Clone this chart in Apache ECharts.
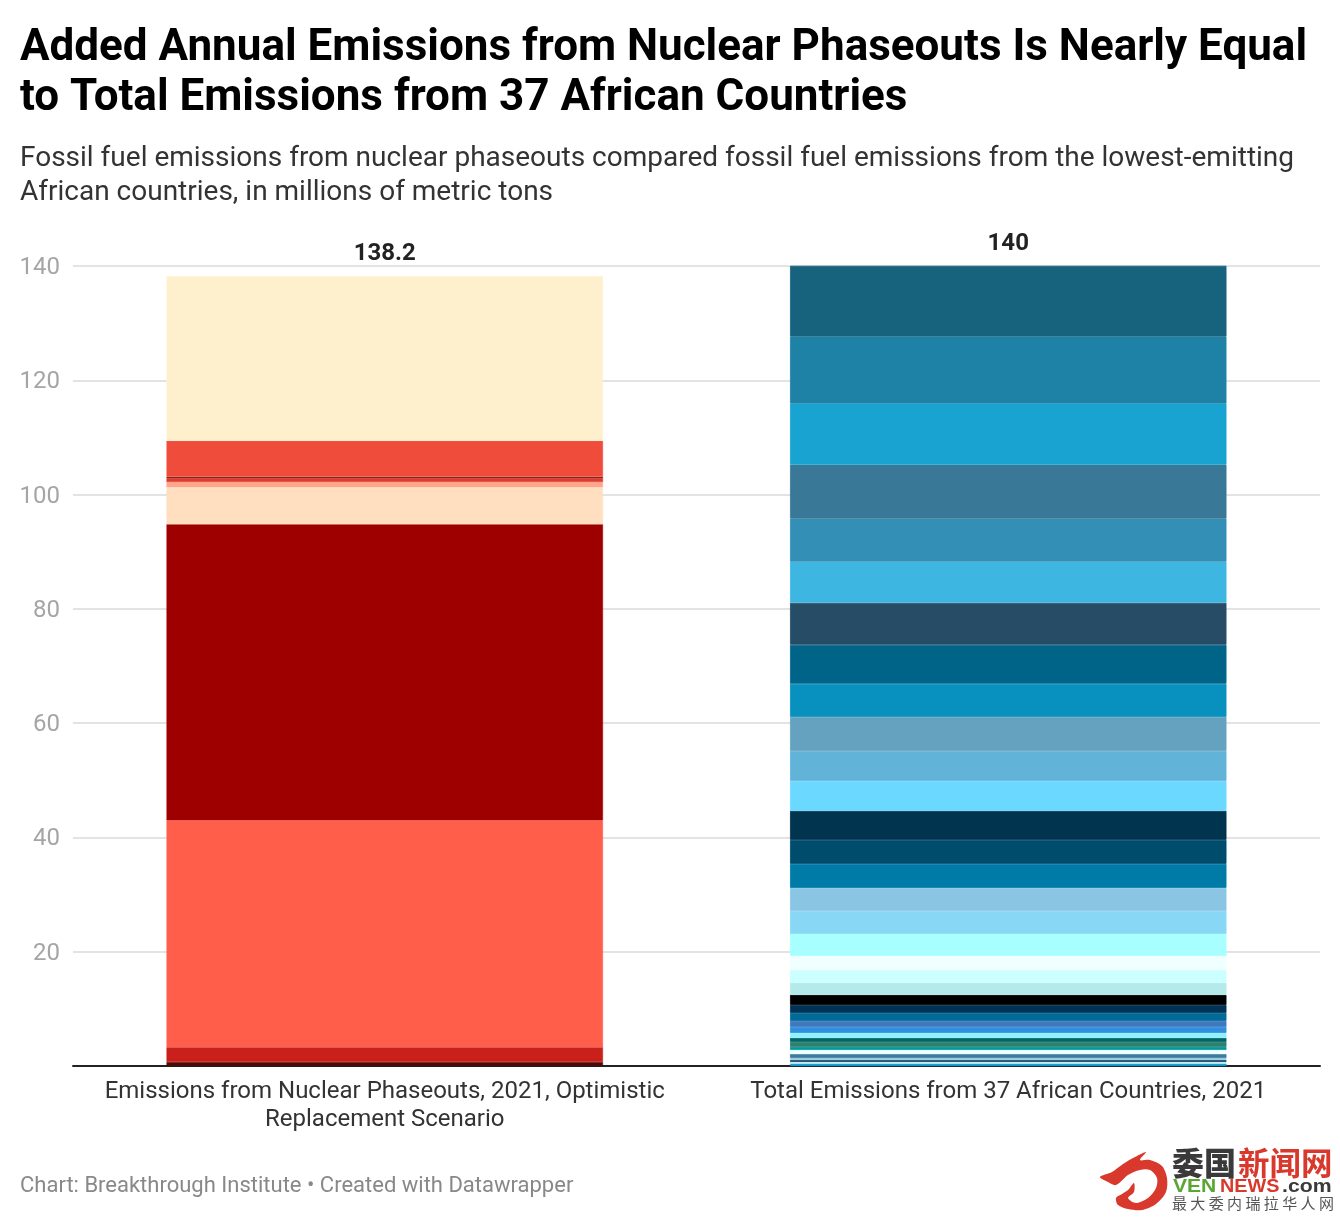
<!DOCTYPE html>
<html>
<head>
<meta charset="utf-8">
<script src="https://cdn.jsdelivr.net/npm/echarts@6/dist/echarts.min.js"></script>
<style>
html, body { margin: 0; padding: 0; background: #fff; }
#container { width: 1340px; height: 1218px; }
</style>
</head>
<body>
<div id="container"></div>
<script>
var titleText = 'Added Annual Emissions from Nuclear Phaseouts Is Nearly Equal\nto Total Emissions from 37 African Countries';
var subtitleText = 'Fossil fuel emissions from nuclear phaseouts compared fossil fuel emissions from the lowest-emitting\nAfrican countries, in millions of metric tons';
var footerText = 'Chart: Breakthrough Institute \u2022 Created with Datawrapper';

var categories = ['Emissions from Nuclear Phaseouts, 2021, Optimistic\nReplacement Scenario', 'Total Emissions from 37 African Countries, 2021'];
var totals = [138.2, 140];

// bottom to top
var nuclearValues = [0.7, 2.6, 39.7, 51.8, 6.5, 0.9, 0.7, 0.2, 6.3, 28.8];
var nuclearColors = ['#4f0b07', '#c9201c', '#ff5f4a', '#9e0000', '#ffdfbf', '#ffa58a', '#dd3a2c', '#6e0f0a', '#f04c3c', '#fff0cd'];

var africaValues = [0.44, 0.26, 0.35, 0.35, 0.7, 0.7, 0.53, 0.88, 0.7, 0.88, 1.05, 1.05, 1.4, 1.4, 1.75, 2.1, 2.28, 2.45, 3.85, 4.03, 4.03, 4.2, 4.2, 5.08, 5.25, 5.25, 5.95, 5.78, 6.83, 7.35, 7.18, 7.53, 9.45, 10.68, 11.73, 12.4];
var africaColors = ['#15a5d5', '#d8f6ff', '#0d3a56', '#8ccbe6', '#3d7a9e', '#f0ffff', '#009999', '#2e8070', '#006666', '#90f0ff', '#3090dd', '#4078c0', '#006b99', '#003355', '#000000', '#b5eaea', '#ccffff', '#f0ffff', '#a8ffff', '#88d8f5', '#8ac6e3', '#007ba7', '#004c6d', '#00344f', '#6bd9ff', '#62b3d8', '#65a2c0', '#0891bf', '#006488', '#264c66', '#3eb6e2', '#338fb5', '#397897', '#19a3d0', '#1e82a6', '#17637e'];

var series = [];
function addStack(values, colors, idx, border) {
    values.forEach(function (v, i) {
        var d = [null, null];
        d[idx] = v;
        series.push({
            type: 'bar', stack: 'a', barWidth: '70%', silent: true,
            data: d,
            itemStyle: { color: colors[i], borderColor: colors[i], borderWidth: border }
        });
    });
}
addStack(nuclearValues, nuclearColors, 0, 0.5);
addStack(africaValues, africaColors, 1, 0.8);
// totals on top of the stacks
series.push({
    type: 'scatter', symbolSize: 0, silent: true,
    data: totals,
    itemStyle: { opacity: 1 },
    label: {
        show: true, position: 'top', distance: 10,
        color: '#222', fontFamily: 'Roboto', fontSize: 24, fontWeight: 700,
        formatter: function (p) { return String(p.value); }
    }
});

var myChart = echarts.init(document.getElementById('container'), null, { renderer: 'canvas' });
myChart.setOption({
    animation: false,
    backgroundColor: '#fff',
    title: [
        { text: titleText, left: 15, top: 19, textStyle: { fontFamily: 'Roboto', fontSize: 44, fontWeight: 700, color: '#000', lineHeight: 50 } },
        { text: subtitleText, left: 15, top: 136.5, textStyle: { fontFamily: 'Roboto', fontSize: 28, fontWeight: 400, color: '#333', lineHeight: 34 } },
        { text: footerText, left: 15, top: 1170, textStyle: { fontFamily: 'Roboto', fontSize: 22, fontWeight: 400, color: '#888' } }
    ],
    grid: { left: 73, right: 20, top: 266, height: 800, containLabel: false },
    xAxis: {
        type: 'category', data: categories,
        axisTick: { show: false },
        axisLine: { lineStyle: { color: '#222', width: 2 } },
        axisLabel: { interval: 0, color: '#333', fontFamily: 'Roboto', fontSize: 24, lineHeight: 28, margin: 12, width: 600, overflow: 'none' }
    },
    yAxis: {
        type: 'value', min: 0, max: 140, interval: 20,
        axisLine: { show: false }, axisTick: { show: false },
        splitLine: { lineStyle: { color: '#e3e3e3', width: 2 } },
        axisLabel: {
            margin: 13,
            formatter: function (v) { return v === 0 ? '' : '{n|' + v + '}'; },
            rich: { n: { color: '#a5a5a5', fontFamily: 'Roboto', fontSize: 24, lineHeight: 28, padding: [4, 0, 0, 0] } }
        }
    },
    series: series,
    graphic: [
        // logo
        { type: 'polygon', shape: { smooth: 0.3, points: [[1100,1177],[1112,1172],[1123,1164],[1135,1157],[1146,1152],[1140,1160],[1150,1160],[1162,1166],[1167,1178],[1166,1192],[1156,1204],[1142,1210],[1128,1209],[1118,1205],[1116,1198],[1122,1194],[1128,1190],[1134,1183],[1134,1192],[1128,1198],[1136,1203],[1148,1198],[1156,1188],[1157,1178],[1150,1170],[1140,1170],[1128,1175],[1116,1185],[1108,1182]] }, style: { fill: '#d8392c' } },
        { type: 'text', x: 1172, y: 1147, style: { text: '\u59d4\u56fd', fontFamily: 'Noto Sans CJK SC', fontWeight: 900, fontSize: 32, fill: '#3a3a3a' } },
        { type: 'text', x: 1238, y: 1147, style: { text: '\u65b0\u95fb\u7f51', fontFamily: 'Noto Sans CJK SC', fontWeight: 700, fontSize: 31.5, fill: '#d8392c' } },
        { type: 'text', x: 1173, y: 1178, scaleX: 1.17, style: { text: 'VEN', fontFamily: 'Liberation Sans', fontWeight: 700, fontSize: 18, fill: '#5aa632' } },
        { type: 'text', x: 1220, y: 1178, scaleX: 1.1, style: { text: 'NEWS', fontFamily: 'Liberation Sans', fontWeight: 700, fontSize: 18, fill: '#d8392c' } },
        { type: 'text', x: 1282, y: 1178, scaleX: 1.18, style: { text: '.com', fontFamily: 'Liberation Sans', fontWeight: 700, fontSize: 18, fill: '#3a3a3a' } },
        { type: 'text', x: 1172, y: 1196, style: { text: '\u6700 \u5927 \u59d4 \u5185 \u745e \u62c9 \u534e \u4eba \u7f51', fontFamily: 'Noto Sans CJK SC', fontSize: 15, fill: '#555' } }
    ]
});
</script>
</body>
</html>
